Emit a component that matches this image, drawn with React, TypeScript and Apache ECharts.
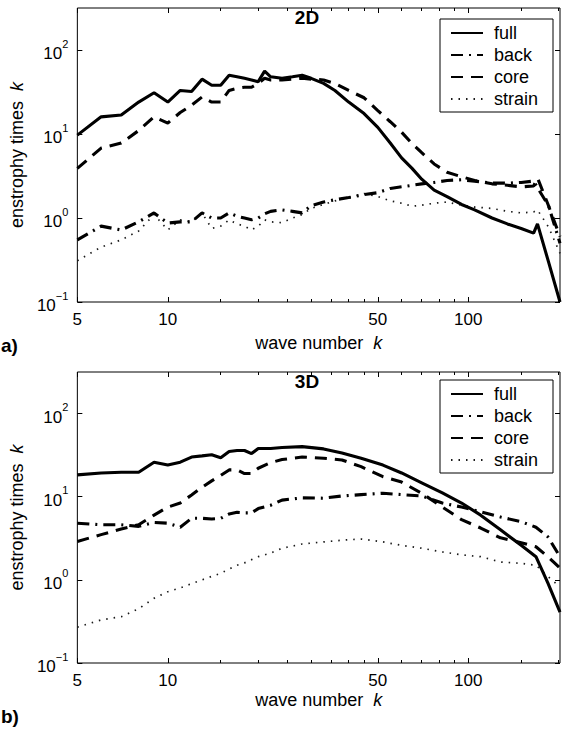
import React, { useEffect, useRef } from "react";
import * as echarts from "echarts";

// ---------- data ----------
const K_2D = [5, 6, 7, 8, 9, 10, 11, 12, 13, 14, 15, 16, 17, 18, 19, 20, 21, 22, 24, 26, 28, 30, 33, 36, 40, 45, 50, 55, 60, 65, 70, 77, 85, 95, 105, 120, 135, 150, 165, 170, 185, 202];
const FULL_2D = [9.7, 16, 16.8, 24, 31, 24, 33, 32, 45, 38, 38, 50, 48, 46, 44, 42, 56, 48, 46, 48, 50, 46, 40, 33, 24, 17.5, 12, 7.8, 5.2, 3.9, 2.9, 2.15, 1.8, 1.45, 1.25, 1.0, 0.85, 0.75, 0.66, 0.85, 0.3, 0.1];
const BACK_2D = [0.55, 0.8, 0.72, 0.9, 1.15, 0.87, 0.9, 0.9, 1.15, 1.0, 1.0, 1.15, 1.05, 1.0, 0.95, 1.0, 1.12, 1.2, 1.25, 1.2, 1.15, 1.4, 1.55, 1.65, 1.75, 1.9, 2.0, 2.25, 2.35, 2.45, 2.55, 2.65, 2.8, 2.85, 2.75, 2.6, 2.6, 2.65, 2.75, 2.3, 1.4, 0.5];
const CORE_2D = [3.9, 6.8, 7.8, 11, 16, 13.5, 18, 22, 27.6, 24, 24, 33, 35, 36, 36, 40, 46, 44, 44, 45, 46, 45, 44, 40, 33, 27, 19, 14, 10.5, 7.7, 6, 4.4, 3.5, 3.1, 2.8, 2.55, 2.45, 2.35, 2.4, 3.0, 1.4, 0.6];
const STRAIN_2D = [0.31, 0.45, 0.55, 0.7, 1.1, 0.72, 0.95, 0.9, 1.15, 0.75, 0.8, 0.95, 0.85, 0.8, 0.72, 0.8, 0.95, 0.9, 0.88, 1.0, 1.1, 1.3, 1.45, 1.6, 1.75, 1.95, 1.8, 1.6, 1.5, 1.38, 1.42, 1.5, 1.55, 1.42, 1.35, 1.3, 1.2, 1.15, 1.18, 1.25, 0.78, 0.38];

const K_3D = [5, 6, 7, 8, 9, 10, 11, 12, 13, 14, 15, 16, 17, 18, 19, 20, 22, 24, 28, 33, 38, 44, 52, 60, 70, 82, 95, 110, 128, 150, 168, 184, 202];
const FULL_3D = [18.3, 19.3, 19.7, 19.7, 26, 24, 26, 30, 31, 32, 29.5, 35, 36, 36, 33, 38, 38, 39, 40, 37.6, 33.6, 29, 24, 19.3, 14.7, 11.1, 8.4, 6.0, 4.0, 2.6, 1.9, 0.92, 0.41];
const BACK_3D = [4.8, 4.6, 4.6, 4.4, 4.9, 4.8, 4.3, 5.5, 5.5, 5.4, 5.5, 6.2, 6.5, 6.4, 6.4, 7.2, 7.9, 9.1, 9.7, 9.6, 10.2, 10.6, 11, 10.6, 10.2, 8.4, 7.5, 6.6, 5.7, 5.0, 4.3, 3.3, 1.9];
const CORE_3D = [2.9, 3.5, 4.1, 4.6, 6.0, 7.5, 8.4, 10.5, 13, 15.5, 18, 21, 21, 19, 19, 22, 25.7, 28, 30, 29, 27.7, 23, 17.4, 15, 11, 7.5, 5.3, 4.2, 3.2, 2.8, 2.5, 1.9, 1.39];
const STRAIN_3D = [0.27, 0.33, 0.36, 0.45, 0.6, 0.72, 0.8, 0.9, 1.0, 1.1, 1.2, 1.35, 1.5, 1.6, 1.75, 1.9, 2.1, 2.4, 2.7, 2.86, 3.0, 3.1, 2.86, 2.6, 2.4, 2.17, 2.0, 1.9, 1.64, 1.58, 1.5, 1.1, 0.82];

const SERIES_NAMES = ["full", "back", "core", "strain"];
const PANEL_TITLES = ["2D", "3D"];
const PANEL_TAGS = ["a)", "b)"];
const X_LABEL_VALUES = [5, 10, 50, 100];
const X_MINOR_TICKS = [15, 20, 25, 30, 35, 40, 45, 60, 70, 80, 90, 150, 200];
const Y_TICK_VALUES = [0.1, 1, 10, 100];
const X_MIN = 5;
const X_MAX = 202;
const Y_MIN = 0.1;
const Y_MAX = 316.2278;

const FONT = "'Liberation Sans', Arial, Helvetica, sans-serif";

const PANELS = [
  { k: K_2D, values: [FULL_2D, BACK_2D, CORE_2D, STRAIN_2D] },
  { k: K_3D, values: [FULL_3D, BACK_3D, CORE_3D, STRAIN_3D] },
];

const LINE_STYLES: any[] = [
  { color: "#000", width: 3.1, type: "solid" },
  { color: "#000", width: 3.1, type: [12, 6, 2, 6] },
  { color: "#000", width: 3.1, type: [12, 8] },
  { color: "#1a1a1a", width: 1.7, type: [1.5, 6] },
];

const GRIDS = [
  { left: 75, top: 8, width: 485, height: 294 },
  { left: 75, top: 372, width: 485, height: 291 },
];

function supLabel(v: number) {
  const e = Math.round(Math.log10(v));
  const s = e < 0 ? "\u2212" + String(-e) : String(e);
  return "{b|10}{s|" + s + "}";
}

export default function App() {
  const ref = useRef<HTMLDivElement>(null);

  useEffect(() => {
    if (!ref.current) return;
    const chart = echarts.init(ref.current, null, { renderer: "svg" });

    const xAxes: any[] = [];
    const yAxes: any[] = [];
    const series: any[] = [];
    const graphics: any[] = [];
    const legends: any[] = [];
    const nameGaps = [32, 28];

    PANELS.forEach((panel, p) => {
      const base = {
        type: "log",
        logBase: 10,
        min: X_MIN,
        max: X_MAX,
        gridIndex: p,
        axisLine: { show: false },
        splitLine: { show: false },
        minorTick: { show: false },
      };
      xAxes.push({
        ...base,
        position: "bottom",
        name: "{a|wave number  }{i|k}",
        nameLocation: "middle",
        nameGap: nameGaps[p],
        nameTextStyle: {
          fontFamily: FONT,
          fontSize: 18,
          color: "#000",
          rich: {
            a: { fontFamily: FONT, fontSize: 18, color: "#000" },
            i: { fontFamily: FONT, fontSize: 18, color: "#000", fontStyle: "italic" },
          },
        },
        axisTick: { show: true, inside: true, length: 5, customValues: X_LABEL_VALUES, lineStyle: { color: "#000" } },
        axisLabel: {
          show: true,
          customValues: X_LABEL_VALUES,
          margin: 9,
          fontFamily: FONT,
          fontSize: 17,
          color: "#000",
          formatter: (v: number) => String(Math.round(v)),
        },
      });
      xAxes.push({
        ...base,
        position: "bottom",
        axisTick: { show: true, inside: true, length: 3, customValues: X_MINOR_TICKS, lineStyle: { color: "#000" } },
        axisLabel: { show: false },
      });
      xAxes.push({
        ...base,
        position: "top",
        axisTick: { show: true, inside: true, length: 5, customValues: X_LABEL_VALUES, lineStyle: { color: "#000" } },
        axisLabel: { show: false },
      });
      xAxes.push({
        ...base,
        position: "top",
        axisTick: { show: true, inside: true, length: 3, customValues: X_MINOR_TICKS, lineStyle: { color: "#000" } },
        axisLabel: { show: false },
      });

      const ybase = {
        type: "log",
        logBase: 10,
        min: Y_MIN,
        max: Y_MAX,
        gridIndex: p,
        axisLine: { show: false },
        splitLine: { show: false },
        minorTick: { show: false },
      };
      yAxes.push({
        ...ybase,
        position: "left",
        name: "{a|enstrophy times  }{i|k}",
        nameLocation: "middle",
        nameGap: 37,
        nameTextStyle: {
          fontFamily: FONT,
          fontSize: 18,
          color: "#000",
          rich: {
            a: { fontFamily: FONT, fontSize: 18, color: "#000" },
            i: { fontFamily: FONT, fontSize: 18, color: "#000", fontStyle: "italic" },
          },
        },
        axisTick: { show: true, inside: true, length: 5, customValues: Y_TICK_VALUES, lineStyle: { color: "#000" } },
        axisLabel: {
          show: true,
          customValues: Y_TICK_VALUES,
          margin: 9,
          formatter: supLabel,
          rich: {
            b: { fontFamily: FONT, fontSize: 17, color: "#000", lineHeight: 24, verticalAlign: "bottom" },
            s: { fontFamily: FONT, fontSize: 11, color: "#000", lineHeight: 12, verticalAlign: "top" },
          },
        },
      });
      yAxes.push({
        ...ybase,
        position: "right",
        axisTick: { show: true, inside: true, length: 5, customValues: Y_TICK_VALUES, lineStyle: { color: "#000" } },
        axisLabel: { show: false },
      });

      SERIES_NAMES.forEach((name, i) => {
        series.push({
          type: "line",
          name,
          xAxisIndex: p * 4,
          yAxisIndex: p * 2,
          data: panel.k.map((k, j) => [k, panel.values[i][j]]),
          showSymbol: false,
          symbol: "none",
          lineStyle: LINE_STYLES[i],
          itemStyle: { color: LINE_STYLES[i].color },
          clip: true,
          z: 3 - i,
        });
      });

      const g = GRIDS[p];
      graphics.push({
        type: "text",
        x: 307,
        y: g.top + 9,
        style: {
          text: PANEL_TITLES[p],
          fontFamily: FONT,
          fontSize: 19,
          fontWeight: "bold",
          fill: "#000",
          textAlign: "center",
          textVerticalAlign: "middle",
        },
      });
      graphics.push({
        type: "text",
        x: 1,
        y: p === 0 ? 345 : 716,
        style: {
          text: PANEL_TAGS[p],
          fontFamily: FONT,
          fontSize: 19,
          fontWeight: "bold",
          fill: "#000",
          textAlign: "left",
          textVerticalAlign: "middle",
        },
      });

      legends.push({
        orient: "vertical",
        left: 440,
        top: p === 0 ? 19 : 380,
        padding: [5, 15, 4, 10],
        itemWidth: 32,
        itemHeight: 14,
        itemGap: 4,
        borderColor: "#000",
        borderWidth: 1,
        backgroundColor: "#fff",
        selectedMode: false,
        itemStyle: { opacity: 0, borderWidth: 0 },
        data: SERIES_NAMES,
        textStyle: { fontFamily: FONT, fontSize: 18, color: "#000", lineHeight: 18, padding: [0, 0, 0, 6] },
      });
    });

    chart.setOption({
      animation: false,
      backgroundColor: "#fff",
      grid: GRIDS.map((g) => ({ ...g, show: true, borderColor: "#000", borderWidth: 1, backgroundColor: "transparent" })),
      xAxis: xAxes,
      yAxis: yAxes,
      legend: legends,
      series,
      graphic: graphics,
    });

    return () => chart.dispose();
  }, []);

  return (
    <div
      ref={ref}
      style={{ position: "fixed", left: 0, top: 0, width: 564, height: 729, background: "#fff" }}
    />
  );
}
